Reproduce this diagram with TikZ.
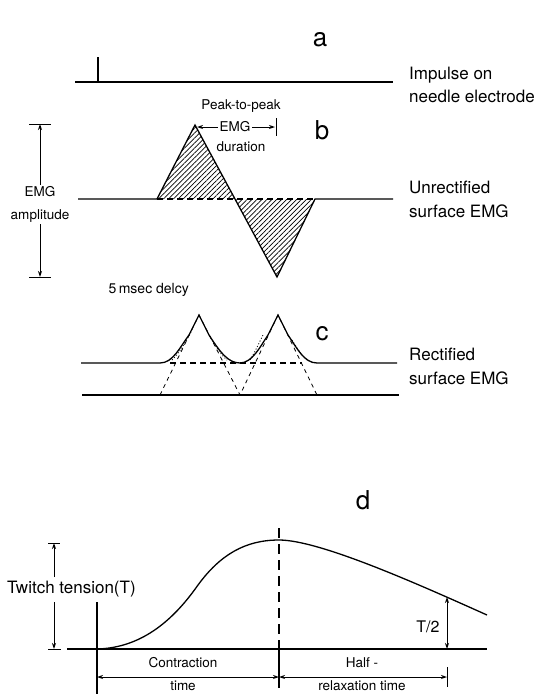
\documentclass[tikz,border=0pt]{standalone}
\usepackage{fontspec}
\setmainfont{TeX Gyre Heros}
\usetikzlibrary{arrows.meta,patterns.meta}
\begin{document}
\begin{tikzpicture}[x=1pt,y=-1pt,
  ln/.style={line width=1.3pt},
  thinln/.style={line width=1pt},
  dsh/.style={line width=1.2pt,dash pattern=on 6pt off 4pt},
  tdsh/.style={line width=0.8pt,dash pattern=on 4pt off 4pt},
  dots/.style={line width=0.8pt,dash pattern=on 1pt off 2pt},
  lbl/.style={font=\fontsize{13.5}{15}\selectfont, inner sep=1.5pt},
  rlbl/.style={font=\fontsize{17}{19}\selectfont, inner sep=0pt, anchor=west},
  big/.style={font=\fontsize{26}{28}\selectfont, inner sep=0pt},
  arr/.style={line width=1pt,-{Stealth[length=6pt,width=4pt]}},
  darr/.style={line width=1pt,{Stealth[length=6pt,width=4pt]}-{Stealth[length=6pt,width=4pt]}},
  hatch/.style={pattern={Lines[angle=45,distance=3.5pt,line width=0.7pt]}}
]
\useasboundingbox[fill=white] (0,0) rectangle (538,694);

% ---------- panel a ----------
\node[big] (la) at (320,40) {a};
\coordinate (a0) at (75,82);
\coordinate (a1) at (393,82);
\coordinate (ib) at (98,82);
\coordinate (it) at (98,57);
\draw[ln] (a0) -- (a1);
\draw[ln] (ib) -- (it);
\node[rlbl] (ta1) at (409,75) {Impulse on};
\node[rlbl] (ta2) at (409,96) {needle electrode};

% ---------- panel b ----------
\node[big] (lb) at (322,130) {b};
\coordinate (b0) at (78,199);
\coordinate (p1) at (157,199);
\coordinate (pk) at (195,125);
\coordinate (z) at (235,199);
\coordinate (tr) at (277,277);
\coordinate (p2) at (315,199);
\coordinate (b1) at (393,199);
\fill[hatch] (p1) -- (pk) -- (z) -- cycle;
\fill[hatch] (z) -- (tr) -- (p2) -- cycle;
\draw[ln] (b0) -- (p1) -- (pk) -- (z) -- (tr) -- (p2) -- (b1);
\draw[dsh] (p1) -- (p2);
\node[rlbl] (tb1) at (409,187) {Unrectified};
\node[rlbl] (tb2) at (409,211) {surface EMG};

% amplitude
\node[lbl] (ea1) at (40,192) {EMG};
\node[lbl] (ea2) at (40,216) {amplitude};
\coordinate (at) at (40,124);
\coordinate (ab) at (40,277);
\coordinate (atl) at (29,124);
\coordinate (atr) at (51,124);
\coordinate (abl) at (29,277);
\coordinate (abr) at (51,277);
\draw[arr] (ea1.north) -- (at);
\draw[arr] (ea2.south) -- (ab);
\draw[thinln] (atl) -- (atr);
\draw[thinln] (abl) -- (abr);

% peak-to-peak
\node[lbl] (pp) at (241,106) {Peak-to-peak};
\node[lbl] (pe) at (235,127) {EMG};
\node[lbl] (pd) at (241,147) {duration};
\coordinate (pl) at (197,127);
\coordinate (pr) at (275,127);
\coordinate (bt) at (276,118);
\coordinate (bb) at (276,136);
\draw[arr] (pe.west) -- (pl);
\draw[arr] (pe.east) -- (pr);
\draw[thinln] (bt) -- (bb);

\node[lbl,font=\fontsize{14}{16}\selectfont,anchor=west] (dl) at (107,290) {5\,msec delcy};

% ---------- panel c ----------
\node[big] (lc) at (322,334) {c};
\coordinate (u0) at (81,363);
\coordinate (c1) at (160,363);
\coordinate (k1) at (199,315);
\coordinate (v) at (240,363);
\coordinate (k2) at (278,315);
\coordinate (c2) at (317,363);
\coordinate (u1) at (397,363);
\coordinate (w0) at (82,395);
\coordinate (w1) at (399,395);
\coordinate (d1) at (160,395);
\coordinate (dv) at (240,395);
\coordinate (d2) at (317,395);
\coordinate (h0) at (170,363);
\coordinate (h1) at (302,363);
\draw[ln] (u0) -- (c1) .. controls (173,363) and (180,347) .. (189,335) -- (k1)
  -- (209,335) .. controls (220,352) and (228,363) .. (v)
  .. controls (252,363) and (260,347) .. (268,335) -- (k2)
  -- (288,335) .. controls (297,348) and (304,363) .. (c2) -- (u1);
\draw[ln] (w0) -- (w1);
\draw[tdsh] (d1) -- (k1) -- (dv) -- (k2) -- (d2);
\draw[dsh] (h0) -- (h1);
\draw[dots] (172,360) .. controls (180,352) and (185,343) .. (191,332);
\draw[dots] (211,338) .. controls (216,347) and (221,355) .. (227,360);
\draw[dots] (250,360) .. controls (255,352) and (258,345) .. (263,335);
\draw[dots] (292,340) .. controls (297,348) and (301,355) .. (307,360);
\node[rlbl] (tc1) at (409,354) {Rectified};
\node[rlbl] (tc2) at (409,378) {surface EMG};

% ---------- panel d ----------
\node[big] (ld) at (363,500) {d};
\coordinate (g0) at (67,649);
\coordinate (g1) at (487,649);
\coordinate (s0) at (97,649);
\coordinate (st) at (97,602);
\coordinate (sb) at (97,694);
\coordinate (pkd) at (279,540);
\coordinate (dtop) at (279,528);
\coordinate (xb) at (279,649);
\coordinate (dbot) at (279,688);
\coordinate (e) at (487,615);
\coordinate (h) at (447,597);
\coordinate (hb) at (447,649);
\draw[ln] (g0) -- (g1);
\draw[ln] (st) -- (sb);
\draw[ln] (s0) .. controls (135,648) and (168,628) .. (198,585)
  .. controls (220,555) and (245,540) .. (pkd)
  .. controls (320,540) and (420,585) .. (e);
\draw[line width=1.2pt,dash pattern=on 10pt off 6pt] (dtop) -- (xb);
\draw[ln] (xb) -- (dbot);
\draw[darr] (hb) -- (h);
\node[lbl,font=\fontsize{16}{18}\selectfont] (t2) at (428,627) {T/2};

% twitch tension
\node[lbl,font=\fontsize{17}{19}\selectfont,anchor=west,inner sep=0pt] (tw) at (7,589) {Twitch tension(T)};
\coordinate (twu) at (54,577);
\coordinate (twd) at (54,602);
\coordinate (tt) at (54,543);
\coordinate (tb) at (54,649);
\coordinate (ttl) at (48,543);
\coordinate (ttr) at (60,543);
\coordinate (tbl) at (48,649);
\coordinate (tbr) at (61,649);
\draw[arr] (twu) -- (tt);
\draw[arr] (twd) -- (tb);
\draw[thinln] (ttl) -- (ttr);
\draw[thinln] (tbl) -- (tbr);

% time arrows
\coordinate (ca) at (97,677);
\coordinate (cb) at (279,677);
\coordinate (cc) at (447,677);
\coordinate (ct) at (447,667);
\coordinate (cd) at (447,687);
\draw[darr] (ca) -- (cb);
\draw[darr] (cb) -- (cc);
\draw[thinln] (ct) -- (cd);
\node[lbl] (co1) at (183,663) {Contraction};
\node[lbl] (co2) at (183,686) {time};
\node[lbl] (hr1) at (362,663) {Half -};
\node[lbl] (hr2) at (362,686) {relaxation time};
\end{tikzpicture}
\end{document}
